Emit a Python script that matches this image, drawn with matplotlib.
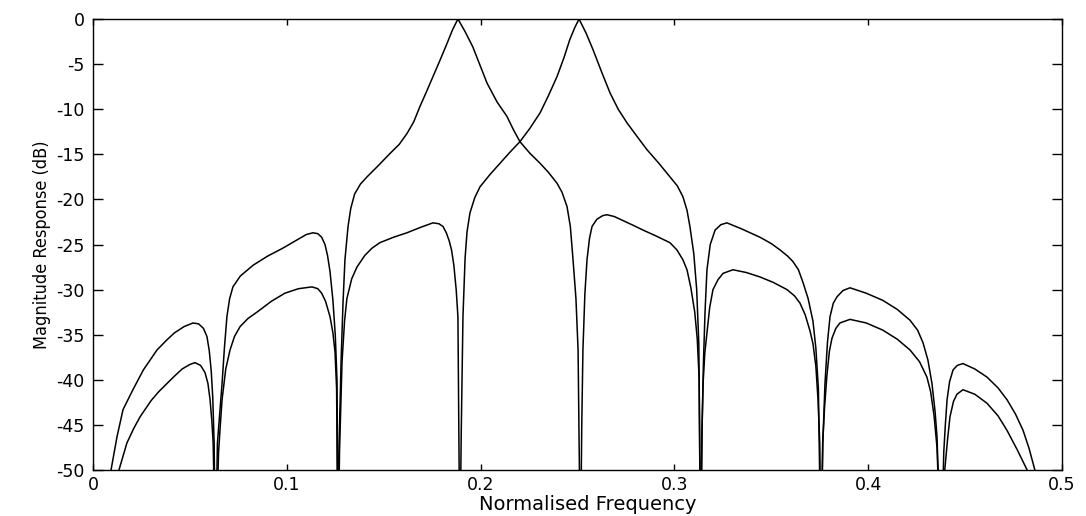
import matplotlib.pyplot as plt
import numpy as np

# Magnitude response of two adjacent bandpass channels (dB vs normalised frequency)
chan1_freq = [0.0093, 0.0124, 0.0155, 0.0206, 0.0260, 0.0330, 0.0380, 0.0420, 0.0470, 0.0516,
              0.0545, 0.0570, 0.0588, 0.0600, 0.0610, 0.0618, 0.0625, 0.0632,
              0.0642, 0.0655, 0.0666, 0.0678, 0.0691, 0.0705, 0.0722, 0.0760, 0.0826, 0.0900,
              0.0980, 0.1060, 0.1100, 0.1135, 0.1160, 0.1180, 0.1197, 0.1210, 0.1223, 0.1238,
              0.1250, 0.1259, 0.1264,
              0.1270, 0.1280, 0.1290, 0.1300, 0.1316, 0.1330, 0.1350, 0.1380, 0.1414, 0.1470,
              0.1533, 0.1580, 0.1620, 0.1655, 0.1687, 0.1720, 0.1754, 0.1790, 0.1827, 0.1855,
              0.1883, 0.1920, 0.1960, 0.2000, 0.2033, 0.2085, 0.2136, 0.2170, 0.2203, 0.2255,
              0.2307, 0.2350, 0.2394, 0.2420, 0.2446, 0.2463, 0.2477, 0.2492, 0.2503, 0.2515,
              0.2522, 0.2528, 0.2538, 0.2549, 0.2562, 0.2575, 0.2600, 0.2630, 0.2652, 0.2690,
              0.2740, 0.2790, 0.2838, 0.2910, 0.2977, 0.3013, 0.3044, 0.3065, 0.3085, 0.3105,
              0.3118, 0.3128, 0.3135,
              0.3142, 0.3148, 0.3157, 0.3168, 0.3182, 0.3199, 0.3225, 0.3251, 0.3302, 0.3370,
              0.3442, 0.3510, 0.3581, 0.3620, 0.3648, 0.3675, 0.3700, 0.3715, 0.3730, 0.3741,
              0.3750, 0.3756,
              0.3765, 0.3775, 0.3787, 0.3800, 0.3813, 0.3833, 0.3854, 0.3906, 0.3990, 0.4076,
              0.4150, 0.4216, 0.4265, 0.4303, 0.4322, 0.4340, 0.4355, 0.4376,
              0.4395, 0.4410, 0.4422, 0.4440, 0.4458, 0.4489, 0.4550, 0.4613, 0.4670, 0.4716,
              0.4770, 0.4820, 0.4850]
chan1_db = [-50.0, -46.3, -43.3, -41.1, -38.9, -36.7, -35.6, -34.8, -34.1, -33.7,
            -33.8, -34.3, -35.2, -36.8, -39.0, -42.0, -47.0, -60.0,
            -47.0, -43.5, -40.4, -36.5, -33.0, -31.0, -29.7, -28.5, -27.3, -26.3,
            -25.4, -24.4, -23.9, -23.7, -23.8, -24.2, -25.0, -26.2, -28.0, -31.2,
            -35.0, -40.0, -60.0,
            -47.0, -38.0, -31.5, -26.7, -23.0, -21.0, -19.4, -18.3, -17.5, -16.3,
            -14.9, -13.9, -12.7, -11.4, -9.7, -8.1, -6.4, -4.6, -2.7, -1.2,
            0.0, -1.4, -3.1, -5.3, -7.1, -9.2, -10.8, -12.3, -13.6, -14.9,
            -16.0, -17.0, -18.2, -19.2, -20.8, -23.0, -26.7, -31.0, -36.7, -60.0,
            -45.0, -36.7, -30.5, -26.7, -24.3, -23.0, -22.2, -21.8, -21.7, -21.9,
            -22.4, -22.9, -23.4, -24.1, -24.8, -25.6, -26.7, -27.8, -29.8, -32.5,
            -35.5, -40.0, -60.0,
            -46.0, -40.4, -37.0, -34.8, -32.0, -30.0, -28.9, -28.2, -27.8, -28.1,
            -28.6, -29.2, -30.0, -30.7, -31.5, -32.8, -34.6, -36.0, -38.5, -42.2,
            -47.0, -60.0,
            -47.0, -43.0, -39.5, -36.8, -35.4, -34.3, -33.7, -33.3, -33.7, -34.5,
            -35.5, -36.7, -38.0, -39.7, -41.3, -44.0, -47.5, -60.0,
            -50.0, -46.5, -44.1, -42.4, -41.6, -41.1, -41.6, -42.6, -44.0, -45.6,
            -47.8, -50.0, -52.0]

chan2_freq = [0.0100, 0.0134, 0.0175, 0.0210, 0.0243, 0.0300, 0.0340, 0.0382, 0.0420, 0.0460,
              0.0500, 0.0526, 0.0555, 0.0578, 0.0593, 0.0604, 0.0613, 0.0620, 0.0632,
              0.0648, 0.0657, 0.0666, 0.0685, 0.0707, 0.0730, 0.0759, 0.0800, 0.0846, 0.0920,
              0.0990, 0.1060, 0.1130, 0.1160, 0.1180, 0.1200, 0.1223, 0.1238, 0.1249, 0.1257,
              0.1264,
              0.1272, 0.1285, 0.1298, 0.1310, 0.1335, 0.1362, 0.1403, 0.1440, 0.1480, 0.1550,
              0.1620, 0.1690, 0.1754, 0.1785, 0.1806, 0.1823, 0.1838, 0.1850, 0.1862, 0.1874,
              0.1883, 0.1893,
              0.1900, 0.1909, 0.1920, 0.1930, 0.1945, 0.1970, 0.1997, 0.2050, 0.2100, 0.2150,
              0.2203, 0.2255, 0.2307, 0.2350, 0.2394, 0.2430, 0.2460, 0.2485, 0.2508, 0.2545,
              0.2580, 0.2625, 0.2668, 0.2710, 0.2755, 0.2810, 0.2859, 0.2920, 0.2977, 0.3015,
              0.3044, 0.3065, 0.3080, 0.3100, 0.3115, 0.3126, 0.3135,
              0.3143, 0.3150, 0.3158, 0.3168, 0.3185, 0.3210, 0.3240, 0.3271, 0.3350, 0.3442,
              0.3500, 0.3545, 0.3585, 0.3612, 0.3640, 0.3665, 0.3690, 0.3715, 0.3730, 0.3743,
              0.3756,
              0.3766, 0.3777, 0.3790, 0.3803, 0.3820, 0.3839, 0.3870, 0.3906, 0.3990, 0.4076,
              0.4150, 0.4216, 0.4255, 0.4283, 0.4308, 0.4329, 0.4345, 0.4355, 0.4376,
              0.4390, 0.4398, 0.4407, 0.4420, 0.4438, 0.4460, 0.4489, 0.4550, 0.4613, 0.4670,
              0.4716, 0.4760, 0.4799, 0.4830, 0.4860, 0.4890]
chan2_db = [-54.0, -50.0, -47.0, -45.4, -44.1, -42.3, -41.3, -40.4, -39.6, -38.8,
            -38.3, -38.1, -38.4, -39.2, -40.4, -42.2, -44.5, -47.0, -60.0,
            -48.0, -45.0, -42.2, -38.8, -36.7, -35.2, -34.1, -33.2, -32.5, -31.3,
            -30.4, -29.9, -29.7, -29.9, -30.4, -31.3, -33.0, -34.8, -37.0, -41.0,
            -60.0,
            -48.0, -38.0, -33.5, -31.0, -28.8, -27.5, -26.2, -25.4, -24.8, -24.2,
            -23.7, -23.1, -22.6, -22.7, -23.0, -23.7, -24.6, -25.6, -27.3, -30.0,
            -33.0, -60.0,
            -46.0, -33.0, -26.5, -23.6, -21.5, -19.8, -18.6, -17.2, -16.0, -14.8,
            -13.6, -12.1, -10.4, -8.5, -6.4, -4.3, -2.3, -1.0, 0.0, -1.6,
            -3.4, -5.9, -8.2, -10.0, -11.5, -13.1, -14.5, -16.0, -17.5, -18.5,
            -19.7, -21.2, -23.0, -26.0, -30.0, -36.0, -60.0,
            -45.0, -38.0, -32.5, -27.8, -25.0, -23.4, -22.8, -22.6, -23.3, -24.2,
            -24.9, -25.6, -26.3, -26.9, -27.8, -29.3, -31.0, -33.5, -36.5, -41.0,
            -60.0,
            -47.0, -40.4, -35.8, -33.0, -31.5, -30.8, -30.1, -29.8, -30.4, -31.2,
            -32.2, -33.4, -34.5, -35.9, -37.8, -40.4, -43.5, -46.3, -60.0,
            -48.0, -45.0, -42.2, -40.2, -38.9, -38.4, -38.2, -38.8, -39.7, -40.9,
            -42.2, -43.8, -45.6, -47.6, -50.0, -53.0]

xticks = [0, 0.1, 0.2, 0.3, 0.4, 0.5]
xtick_labels = ['0', '0.1', '0.2', '0.3', '0.4', '0.5']
yticks = [0, -5, -10, -15, -20, -25, -30, -35, -40, -45, -50]

fig = plt.figure(figsize=(10.86, 5.16), dpi=100)
ax = fig.add_axes([93 / 1086, 46 / 516, 969 / 1086, 451 / 516])

ax.plot(chan1_freq, chan1_db, color='black', lw=1.1)
ax.plot(chan2_freq, chan2_db, color='black', lw=1.1)

ax.set_xlim(0, 0.5)
ax.set_ylim(-50, 0)
ax.set_xticks(xticks)
ax.set_xticklabels(xtick_labels)
ax.set_yticks(yticks)
ax.set_yticklabels([str(v) for v in yticks])

for side in ax.spines.values():
    side.set_linewidth(1.0)

ax.tick_params(axis='both', which='major', direction='in', top=True, right=True,
               labelsize=12.5, width=1.0, color='black')
ax.tick_params(axis='y', length=7, pad=6)
ax.tick_params(axis='x', length=4.5, pad=4)

# x label sits just under the tick labels, a little right of centre
ax.set_xlabel('Normalised Frequency', fontsize=14)
ax.xaxis.set_label_coords(0.511, -0.0754, transform=ax.transAxes)
ax.xaxis.label.set_verticalalignment('center')
ax.set_ylabel('Magnitude Response (dB)', fontsize=13, labelpad=4, fontstretch='condensed')

fig.savefig('out.png', dpi=100)
